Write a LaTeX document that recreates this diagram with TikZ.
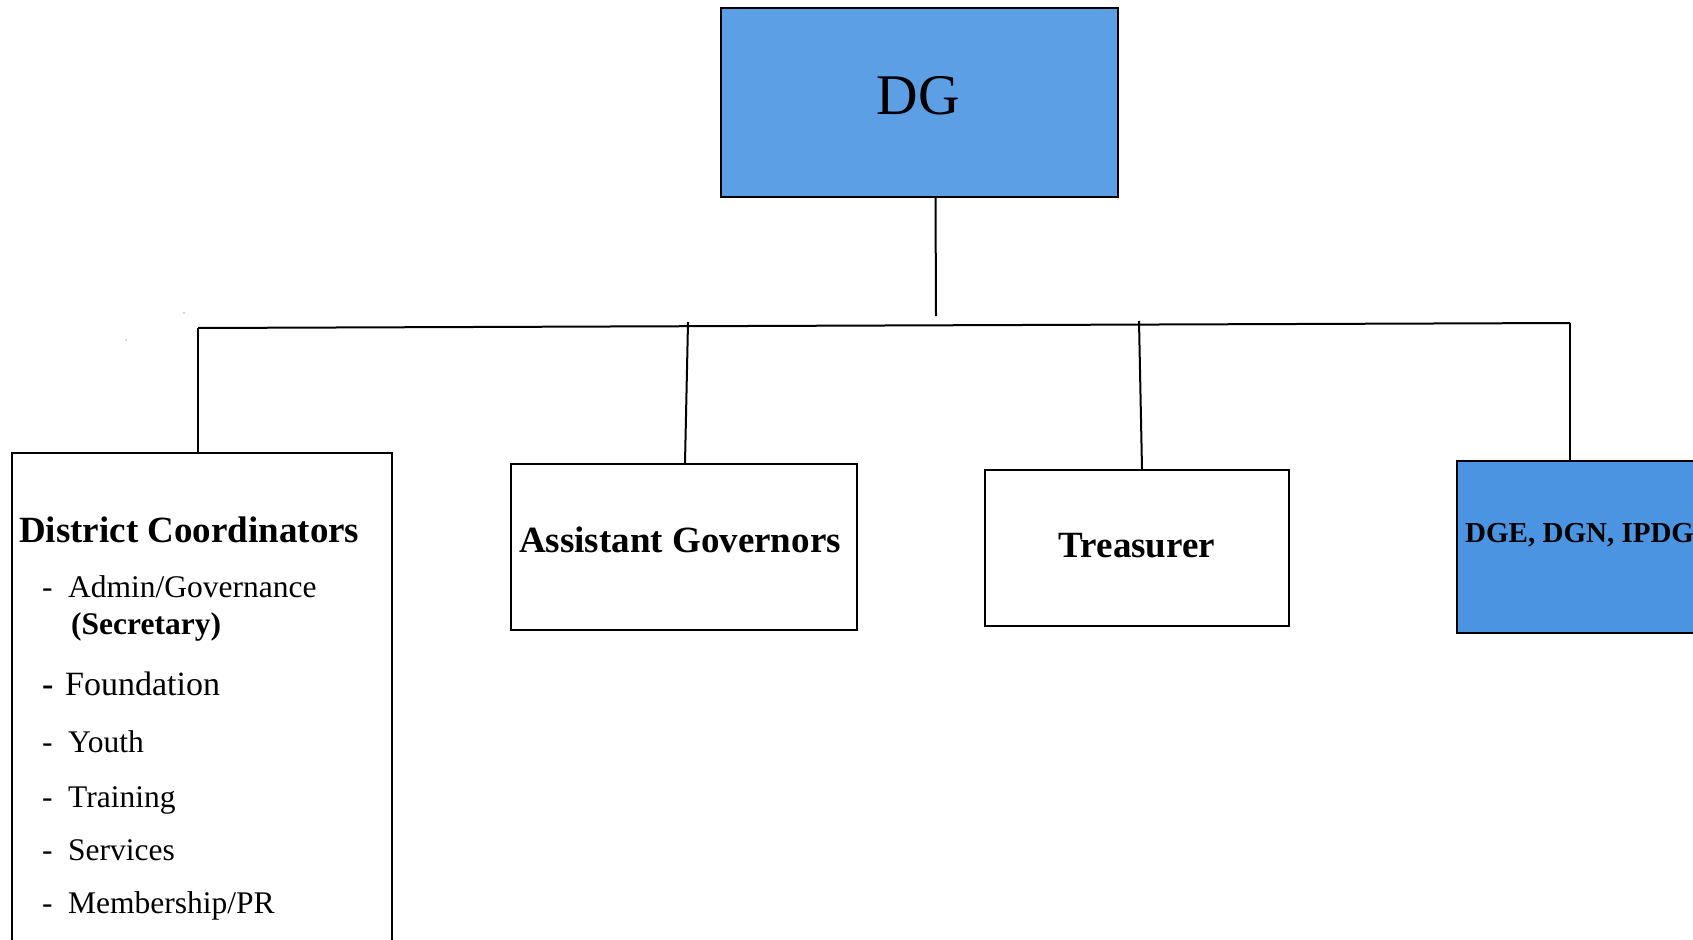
\documentclass[tikz,border=0pt]{standalone}
\usepackage{fontspec}
\setmainfont{Liberation Serif}
\definecolor{dgblue}{HTML}{5C9FE4}
\definecolor{dgeblue}{HTML}{4A94E1}
\begin{document}
\begin{tikzpicture}[x=1pt,y=-1pt,
  box/.style={draw=black, line width=2pt, inner sep=0pt, anchor=north west},
  conn/.style={draw=black, line width=2pt},
  txt/.style={inner sep=0pt, anchor=base west},
  ctxt/.style={inner sep=0pt, anchor=base},
  item/.style={txt, font=\fontsize{31.5}{34}\selectfont},
  bitem/.style={txt, font=\fontsize{31.5}{34}\selectfont\bfseries},
  head/.style={font=\fontsize{37}{40}\selectfont\bfseries}]
\useasboundingbox (0,0) rectangle (1693,939);
\clip (0,0) rectangle (1693,939);
% boxes
\node[box, fill=dgblue, minimum width=397pt, minimum height=188pt] (dg) at (720,7.5) {};
\node[box, minimum width=380pt, minimum height=540pt] (dc) at (11,452) {};
\node[box, minimum width=346pt, minimum height=166pt] (ag) at (510,463) {};
\node[box, minimum width=304pt, minimum height=156pt] (tr) at (984,469) {};
\node[box, fill=dgeblue, minimum width=280pt, minimum height=172pt] (dge) at (1456,460) {};
% texts
\node[ctxt, font=\fontsize{57.5}{60}\selectfont] (dgt) at (918,115) {DG};
\node[ctxt, head] (agt) at (680,552) {Assistant Governors};
\node[ctxt, head] (trt) at (1137,557) {Treasurer};
\node[txt, font=\fontsize{29}{32}\selectfont\bfseries] (dget) at (1465,542) {DGE, DGN, IPDG};
\node[txt, font=\fontsize{37}{40}\selectfont\bfseries] (dct) at (19,542) {District Coordinators};
\node[item] (d1) at (42,597) {-};
\node[item] (i1) at (68,597) {Admin/Governance};
\node[bitem] (i1b) at (71,634) {(Secretary)};
\node[txt, font=\fontsize{34}{36}\selectfont\bfseries] (d2) at (42,695) {-};
\node[txt, font=\fontsize{34}{36}\selectfont] (i2) at (65,695) {Foundation};
\node[item] (d3) at (42,752) {-};
\node[item] (i3) at (68,752) {Youth};
\node[item] (d4) at (42,807) {-};
\node[item] (i4) at (68,807) {Training};
\node[item] (d5) at (42,860) {-};
\node[item] (i5) at (68,860) {Services};
\node[item] (d6) at (42,913) {-};
\node[item] (i6) at (68,913) {Membership/PR};
% connector coordinates
\coordinate (dgdrop) at (936,316);
\coordinate (hl) at (198,328);
\coordinate (hr) at (1570,323);
\coordinate (agtop) at (688,322);
\coordinate (trtop) at (1139,321);
% connectors
\draw[conn] ([xshift=16pt]dg.south) -- (dgdrop);
\draw[conn] (hl) -- (hr);
\draw[conn] (hl) -- (hl |- dc.north);
\draw[conn] (agtop) -- ([xshift=1pt]ag.north);
\draw[conn] (trtop) -- (1142,469);
\draw[conn] (hr) -- (hr |- dge.north);
% specks
\fill[gray!60] (184,313) circle (0.9);
\fill[gray!60] (126,340) circle (0.9);
\end{tikzpicture}
\end{document}
